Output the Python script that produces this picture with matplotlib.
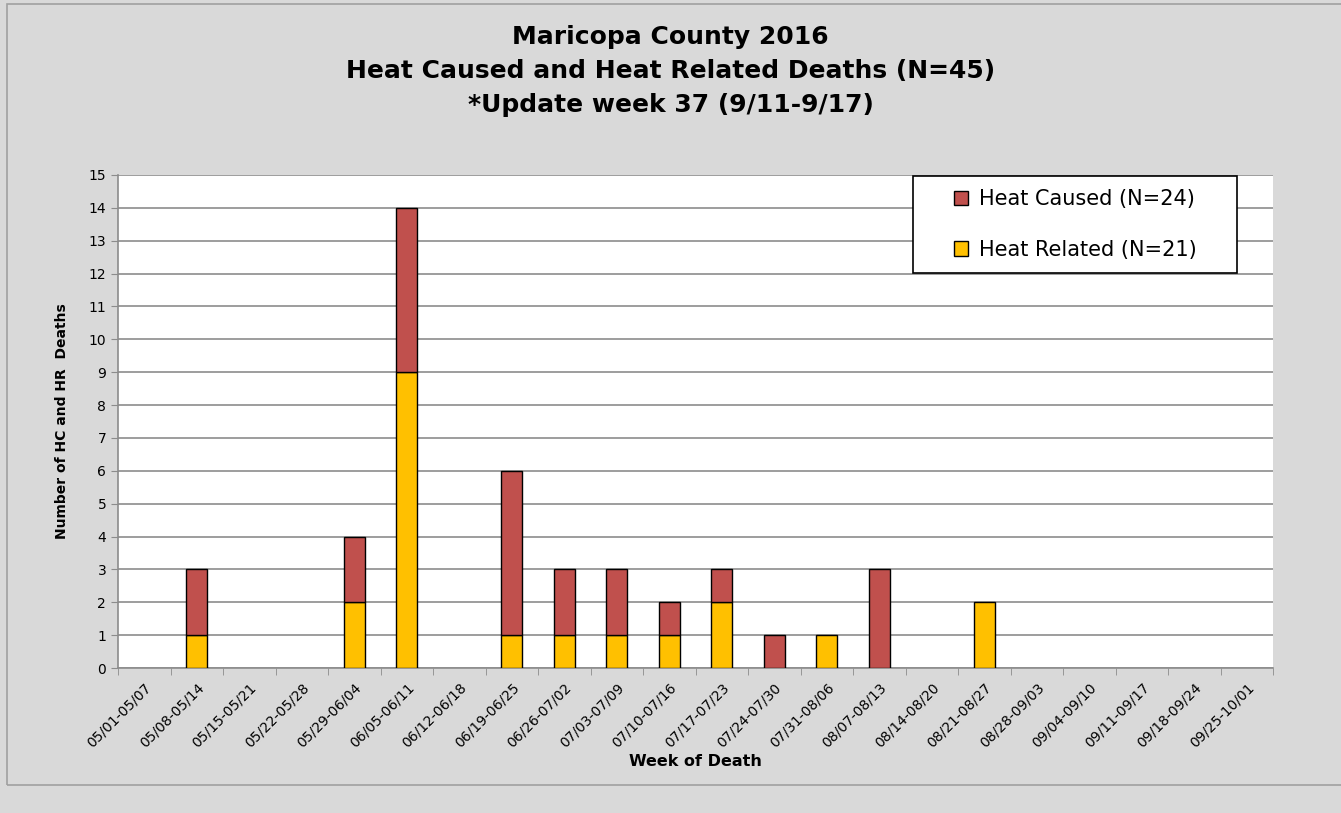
import matplotlib.pyplot as plt
import numpy as np
from matplotlib.patches import Rectangle

weeks = ["05/01-05/07", "05/08-05/14", "05/15-05/21", "05/22-05/28", "05/29-06/04",
         "06/05-06/11", "06/12-06/18", "06/19-06/25", "06/26-07/02", "07/03-07/09",
         "07/10-07/16", "07/17-07/23", "07/24-07/30", "07/31-08/06", "08/07-08/13",
         "08/14-08/20", "08/21-08/27", "08/28-09/03", "09/04-09/10", "09/11-09/17",
         "09/18-09/24", "09/25-10/01"]
heat_related = [0, 1, 0, 0, 2, 9, 0, 1, 1, 1, 1, 2, 0, 1, 0, 0, 2, 0, 0, 0, 0, 0]
heat_caused = [0, 2, 0, 0, 2, 5, 0, 5, 2, 2, 1, 1, 1, 0, 3, 0, 0, 0, 0, 0, 0, 0]

W, H = 1341, 813
bg = "#d9d9d9"
fig = plt.figure(figsize=(W / 100, H / 100), dpi=100, facecolor=bg)
fig.patches.append(Rectangle((7 / W, 1 - 785 / H), 1.2, 781 / H,
                             transform=fig.transFigure, facecolor="none",
                             edgecolor="#a0a0a0", lw=1.2))
ax = fig.add_axes([118 / W, 1 - 668 / H, 1155 / W, 493 / H])
ax.set_facecolor("white")

x = np.arange(len(weeks))
hr = np.array(heat_related, dtype=float)
hc = np.array(heat_caused, dtype=float)
# zero-height bars are not drawn
ax.bar(x, np.where(hr > 0, hr, np.nan), width=0.4, color="#FFC000", edgecolor="black",
       lw=1, label="Heat Related (N=21)", zorder=3)
ax.bar(x, np.where(hc > 0, hc, np.nan), width=0.4, bottom=hr, color="#C0504D",
       edgecolor="black", lw=1, label="Heat Caused (N=24)", zorder=3)

ax.set_xlim(-0.5, len(weeks) - 0.5)
ax.set_ylim(0, 15)
ax.set_yticks(range(16))
ax.yaxis.grid(True, color="#8c8c8c", lw=1.2, zorder=0)
ax.set_xticks(x)
ax.set_xticklabels(weeks, rotation=45, ha="right", rotation_mode="anchor", fontsize=10)
ax.set_xticks(np.arange(-0.5, len(weeks)), minor=True)
ax.tick_params(axis="x", which="major", length=0, pad=9)
ax.tick_params(axis="x", which="minor", length=5, color="#8c8c8c")
ax.tick_params(axis="y", length=5, color="#8c8c8c", labelsize=10)
for s in ["top", "right"]:
    ax.spines[s].set_visible(False)
for s in ["left", "bottom"]:
    ax.spines[s].set_color("#8c8c8c")
    ax.spines[s].set_linewidth(1.2)

ax.set_xlabel("Week of Death", fontsize=11.5, fontweight="bold", labelpad=3)
ax.set_ylabel("Number of HC and HR  Deaths", fontsize=10, fontweight="bold", labelpad=14)

titles = ["Maricopa County 2016", "Heat Caused and Heat Related Deaths (N=45)",
          "*Update week 37 (9/11-9/17)"]
for i, t in enumerate(titles):
    fig.text(0.5, 1 - (37 + 34 * i) / H, t, ha="center", va="center",
             fontsize=18, fontweight="bold", family="DejaVu Sans")

# legend box drawn separately to get the wide padding of the original
fig.patches.append(Rectangle((913 / W, 1 - 273 / H), 324 / W, 97 / H,
                             transform=fig.transFigure, facecolor="white",
                             edgecolor="black", lw=1.2, zorder=5))
h, l = ax.get_legend_handles_labels()
leg = fig.legend(h[::-1], l[::-1], loc="center",
                 bbox_to_anchor=(1075 / W, 1 - 224.5 / H), fontsize=15,
                 frameon=False, handlelength=0.7, handleheight=0.7,
                 labelspacing=1.45, handletextpad=0.5, borderaxespad=0)
leg.set_zorder(6)

fig.savefig("out.png", dpi=100, facecolor=bg)
